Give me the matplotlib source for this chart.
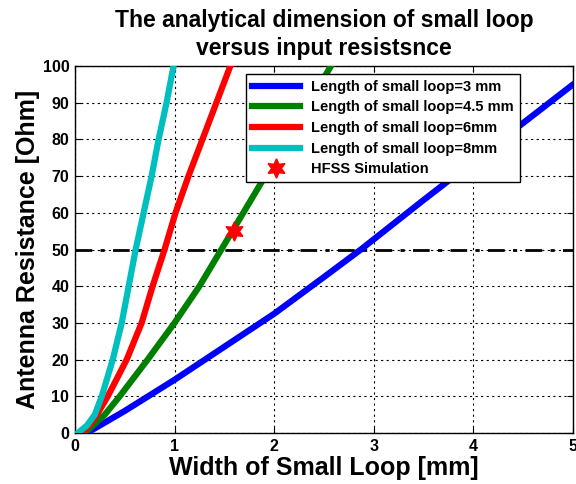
import matplotlib
matplotlib.use("Agg")
import matplotlib.pyplot as plt

# Width of small loop [mm] vs. antenna resistance [Ohm] for each loop length
x_3mm = [0.12, 0.5, 1.0, 1.5, 2.0, 2.5, 2.87, 3.5, 4.0, 4.5, 5.0]
r_3mm = [0, 6, 14.5, 23.5, 32.5, 42.5, 50, 63.5, 74, 84.5, 95]

x_45mm = [0.1, 0.3, 0.45, 0.73, 1.0, 1.25, 1.47, 1.69, 1.91, 2.13, 2.35, 2.57]
r_45mm = [0, 5, 10, 20, 30, 40, 50, 60, 70, 80, 90, 100]

x_6mm = [0.08, 0.2, 0.33, 0.52, 0.67, 0.78, 0.90, 1.01, 1.14, 1.28, 1.42, 1.56]
r_6mm = [0, 4, 10, 20, 30, 40, 50, 60, 70, 80, 90, 100]

x_8mm = [0.03, 0.12, 0.2, 0.27, 0.38, 0.47, 0.54, 0.61, 0.69, 0.77, 0.84, 0.92, 0.99]
r_8mm = [0, 2, 5, 10, 20, 30, 40, 50, 60, 70, 80, 90, 100]

# HFSS simulation point and 50 Ohm reference level
hfss_x = [1.6]
hfss_r = [55]
ref_level = 50

series_labels = ["Length of small loop=3 mm", "Length of small loop=4.5 mm",
                 "Length of small loop=6mm", "Length of small loop=8mm"]
sim_label = "HFSS Simulation"

x_ticks = [0, 1, 2, 3, 4, 5]
y_ticks = [0, 10, 20, 30, 40, 50, 60, 70, 80, 90, 100]

plt.rcParams['font.family'] = ['Liberation Sans', 'DejaVu Sans']

fig = plt.figure(figsize=(5.76, 4.84), dpi=100)
ax = fig.add_axes([0.130, 0.1054, 0.865, 0.7582])

lw = 4.5
ax.plot(x_3mm, r_3mm, color='#0000ff', lw=lw, label=series_labels[0], zorder=3)
ax.plot(x_45mm, r_45mm, color='#008000', lw=lw, label=series_labels[1], zorder=3)
ax.plot(x_6mm, r_6mm, color='#ff0000', lw=lw, label=series_labels[2], zorder=3)
ax.plot(x_8mm, r_8mm, color='#00bfbf', lw=lw, label=series_labels[3], zorder=3)
ax.plot(hfss_x, hfss_r, linestyle='none', marker=(6, 1, 0), markersize=14,
        color='#ff0000', label=sim_label, zorder=5)
ax.axhline(ref_level, color='black', lw=2, linestyle='-.', dashes=(6, 3, 1.5, 3), zorder=2)

ax.set_xlim(0, 5)
ax.set_ylim(0, 100)
ax.set_xticks(x_ticks)
ax.set_yticks(y_ticks)
ax.tick_params(direction='in', top=True, right=True, length=4, labelsize=11.5, pad=4)
for lab in ax.get_xticklabels() + ax.get_yticklabels():
    lab.set_fontweight('bold')
ax.grid(True, color='black', linestyle=(0, (2, 3)), linewidth=0.8)
for s in ax.spines.values():
    s.set_linewidth(1.0)

ax.set_xlabel("Width of Small Loop [mm]", fontsize=18, fontweight='bold', labelpad=2)
ax.set_ylabel("Antenna Resistance [Ohm]", fontsize=18, fontweight='bold', labelpad=2)
ax.set_title("The analytical dimension of small loop\nversus input resistsnce",
             fontsize=16.5, fontweight='bold', pad=8, linespacing=1.25)

leg = ax.legend(loc='upper left', bbox_to_anchor=(0.343, 0.978),
                prop={'weight': 'bold', 'size': 10.5}, handlelength=3.3,
                frameon=True, fancybox=False, framealpha=1, borderpad=0.4,
                labelspacing=0.45, handletextpad=0.8, borderaxespad=0)
leg.get_frame().set_edgecolor('black')
leg.get_frame().set_linewidth(1.0)

fig.savefig("out.png", dpi=100)
